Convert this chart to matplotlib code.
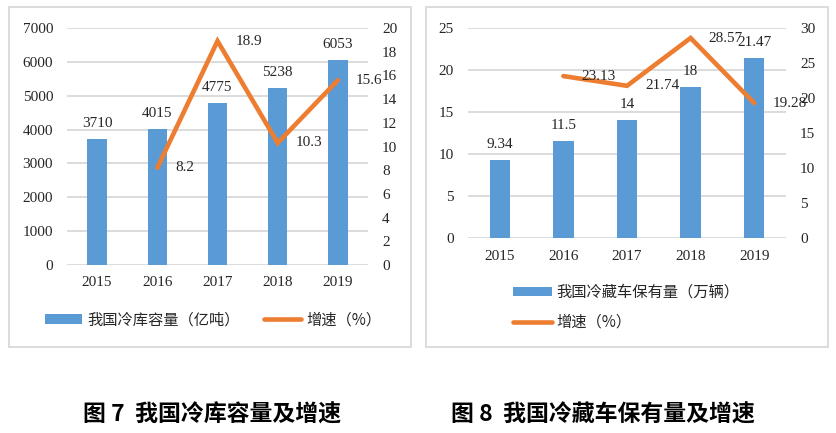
import matplotlib
matplotlib.use("Agg")
import matplotlib.pyplot as plt
from matplotlib.patches import Rectangle, Patch
from matplotlib.lines import Line2D

# ---- data ----
years = ["2015", "2016", "2017", "2018", "2019"]
cold_storage = [3710, 4015, 4775, 5238, 6053]
cold_storage_growth = [None, 8.2, 18.9, 10.3, 15.6]
reefer_trucks = [9.34, 11.5, 14, 18, 21.47]
reefer_growth = [None, 23.13, 21.74, 28.57, 19.28]

legend1 = ["我国冷库容量（亿吨）", "增速（%）"]
legend2 = ["我国冷藏车保有量（万辆）", "增速（%）"]
caption1 = "图 7  我国冷库容量及增速"
caption2 = "图 8  我国冷藏车保有量及增速"

BLUE = "#5B9BD5"
ORANGE = "#ED7D31"
GRID = "#D9D9D9"
TXT = "#262626"
NUMFONT = "Liberation Serif"
CJK = ["Noto Sans CJK SC", "DejaVu Sans"]

W, H = 836, 433
fig = plt.figure(figsize=(W / 100, H / 100), dpi=100)
fig.patch.set_facecolor("white")


def fx(px):
    return px / W


def fy(py):
    return 1 - py / H


def make_panel(box, x0, x1, ytop, ybot, bars, growth, lmax, lstep, rmax, rstep,
               xpad):
    # border
    fig.add_artist(Rectangle((fx(box[0]), fy(box[3])), fx(box[2] - box[0]),
                             (box[3] - box[1]) / H, transform=fig.transFigure,
                             fill=False, edgecolor=GRID, linewidth=1.3))
    ax = fig.add_axes([fx(x0), fy(ybot), fx(x1 - x0), (ybot - ytop) / H])
    xs = list(range(len(years)))
    b = ax.bar(xs, bars, width=0.32, color=BLUE, zorder=2)
    ax.set_xlim(-0.5, len(years) - 0.5)
    ax.set_ylim(0, lmax)
    ax.set_yticks(range(0, lmax + 1, lstep))
    ax.set_xticks(xs)
    ax.set_xticklabels(years)
    ax.grid(axis="y", color=GRID, linewidth=1.3, zorder=0)
    ax.set_axisbelow(True)
    for s in ax.spines.values():
        s.set_visible(False)
    ax.tick_params(axis="both", length=0, labelsize=11, colors=TXT)
    ax.tick_params(axis="y", pad=10)
    ax.tick_params(axis="x", pad=xpad)
    for lab in ax.get_xticklabels() + ax.get_yticklabels():
        lab.set_fontfamily(NUMFONT)
    ax.bar_label(b, labels=[f"{v:g}" for v in bars], padding=6.5,
                 fontsize=11, fontfamily=NUMFONT, color=TXT)

    ax2 = ax.twinx()
    gx = [x for x, v in zip(xs, growth) if v is not None]
    gy = [v for v in growth if v is not None]
    ax2.plot(gx, gy, color=ORANGE, linewidth=3.3, solid_capstyle="round",
             solid_joinstyle="miter", zorder=3)
    ax2.set_ylim(0, rmax)
    ax2.set_yticks(range(0, rmax + 1, rstep))
    for s in ax2.spines.values():
        s.set_visible(False)
    ax2.tick_params(axis="y", length=0, labelsize=11, colors=TXT, pad=10)
    for lab in ax2.get_yticklabels():
        lab.set_fontfamily(NUMFONT)
    for x, v in zip(gx, gy):
        ax2.annotate(f"{v:g}", (x, v), xytext=(13, 0),
                     textcoords="offset points", ha="left", va="center",
                     fontsize=11, fontfamily=NUMFONT, color=TXT, zorder=5)
    return ax, ax2


make_panel((9, 7, 411, 347), 67, 368, 28, 265, cold_storage,
           cold_storage_growth, 7000, 1000, 20, 2, 8)
make_panel((426, 7, 828, 347), 468, 786, 28, 238, reefer_trucks,
           reefer_growth, 25, 5, 30, 5, 8.5)

h_bar = Patch(facecolor=BLUE, edgecolor="none")
h_line = Line2D([], [], color=ORANGE, linewidth=3.3, solid_capstyle="round")

lg1 = fig.legend([h_bar, h_line], legend1, loc="center left",
                 bbox_to_anchor=(fx(45), fy(320)), ncol=2, frameon=False,
                 borderpad=0, borderaxespad=0, handlelength=2.45,
                 handleheight=0.55, handletextpad=0.3, columnspacing=1.6,
                 prop={"family": CJK, "size": 11})
for t in lg1.get_texts():
    t.set_color(TXT)

lg2 = fig.legend([h_bar, h_line], legend2, loc="center left",
                 bbox_to_anchor=(fx(513), fy(307.5)), ncol=1, frameon=False,
                 borderpad=0, borderaxespad=0, handlelength=2.55,
                 handleheight=0.55, handletextpad=0.3, labelspacing=0.85,
                 prop={"family": CJK, "size": 11})
for t in lg2.get_texts():
    t.set_color(TXT)

fig.text(fx(212), fy(415), caption1, ha="center", va="center",
         fontsize=16.5, fontweight="bold", family=CJK, color="black")
fig.text(fx(603), fy(415), caption2, ha="center", va="center",
         fontsize=16.5, fontweight="bold", family=CJK, color="black")

fig.savefig("out.png", dpi=100, facecolor="white")
